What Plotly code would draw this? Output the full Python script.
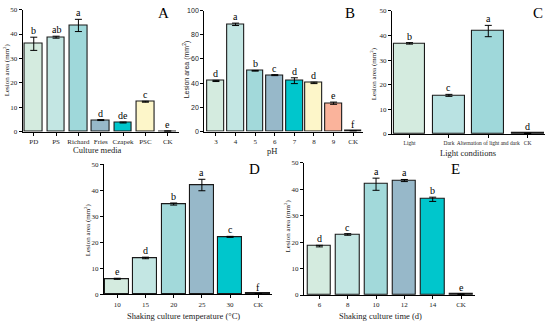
import plotly.graph_objects as go

W, H = 550, 327

# ---- data ----
a_cats = ["PD", "PS", "Richard", "Fries", "Czapek", "PSC", "CK"]
a_vals = [36.0, 38.7, 43.5, 4.8, 3.8, 12.3, 0.3]
a_errs = [2.7, 0.4, 2.5, 0.2, 0.2, 0.2, 0.05]
a_letters = ["b", "ab", "a", "d", "de", "c", "e"]

b_cats = ["3", "4", "5", "6", "7", "8", "9", "CK"]
b_vals = [41.8, 88.6, 50.2, 46.6, 42.0, 40.2, 23.4, 0.5]
b_errs = [0.5, 1.0, 0.3, 0.4, 2.4, 0.6, 0.9, 0.05]
b_letters = ["d", "a", "b", "c", "d", "d", "e", "f"]

c_cats = ["Light", "Dark", "Alternation of light and dark", "CK"]
c_vals = [36.8, 15.7, 41.8, 0.3]
c_errs = [0.3, 0.4, 2.3, 0.05]
c_letters = ["b", "c", "a", "d"]

d_cats = ["10", "15", "20", "25", "30", "CK"]
d_vals = [6.0, 14.0, 34.7, 42.0, 22.1, 0.3]
d_errs = [0.2, 0.3, 0.4, 2.2, 0.2, 0.05]
d_letters = ["e", "d", "b", "a", "c", "f"]

e_cats = ["6", "8", "10", "12", "14", "CK"]
e_vals = [18.5, 22.9, 41.9, 43.3, 36.2, 0.3]
e_errs = [0.3, 0.3, 2.3, 0.4, 0.8, 0.05]
e_letters = ["d", "c", "a", "a", "b", "e"]

# ---- styles ----
G1, G2, G3, G4, CY, YL, SA, DK = "#d4ebdf", "#c3e6e3", "#a2d9da", "#97b8c9", "#00c6cc", "#fdf6c9", "#fab39b", "#222222"
a_cols = [G1, G2, "#9fd8da", G4, CY, YL, DK]
b_cols = [G1, G2, G3, G4, CY, YL, SA, DK]
c_cols = [G1, "#b9e2e2", "#9fd8da", DK]
d_cols = [G1, G2, G3, G4, CY, DK]
e_cols = [G1, G2, G3, G4, CY, DK]

SERIF = "Liberation Serif"
SANS = "Liberation Sans"

def px_x(p): return p / W
def px_y(p): return 1 - p / H

panels = [
    dict(c=a_cats, v=a_vals, e=a_errs, l=a_letters, col=a_cols, xd=(22.6, 178.9), yd=(5.7, 131), xr=(-0.5, 6.5), ym=50, dt=10, bw=0.79,
         lab="A", lp=(163, 9), xt="Culture media", xtp=(97, 150), ytp=(6, 68), tf=7, yfont=SERIF),
    dict(c=b_cats, v=b_vals, e=b_errs, l=b_letters, col=b_cols, xd=(204.2, 363), yd=(6.7, 130.7), xr=(-0.6, 7.5), ym=100, dt=20, bw=0.85,
         lab="B", lp=(350, 9), xt="pH", xtp=(272, 151), ytp=(186, 67), tf=7, yfont=SANS),
    dict(c=c_cats, v=c_vals, e=c_errs, l=c_letters, col=c_cols, xd=(392, 545), yd=(7, 133.3), xr=(-0.445, 3.44), ym=50, dt=10, bw=0.81,
         lab="C", lp=(538, 9), xt="Light conditions", xtp=(468, 153), ytp=(373, 72), tf=5.5, yfont=SERIF),
    dict(c=d_cats, v=d_vals, e=d_errs, l=d_letters, col=d_cols, xd=(104, 272.4), yd=(164.2, 297.7), xr=(-0.47, 5.5), ym=50, dt=10, bw=0.85,
         lab="D", lp=(254, 169), xt="Shaking culture temperature (°C)", xtp=(183, 320), ytp=(87, 232), tf=7, yfont=SERIF),
    dict(c=e_cats, v=e_vals, e=e_errs, l=e_letters, col=e_cols, xd=(303.8, 475.2), yd=(162.8, 298.3), xr=(-0.55, 5.5), ym=50, dt=10, bw=0.82,
         lab="E", lp=(455, 169), xt="Shaking culture time (d)", xtp=(380, 320), ytp=(287, 228), tf=7, yfont=SERIF),
]

fig = go.Figure()
layout = dict(width=W, height=H, margin=dict(l=0, r=0, t=0, b=0), paper_bgcolor="white",
              plot_bgcolor="white", showlegend=False, bargap=0)
annotations = []

for i, p in enumerate(panels):
    idx = "" if i == 0 else str(i + 1)
    xs = list(range(len(p["c"])))
    fig.add_trace(go.Bar(
        x=xs, y=p["v"], width=p["bw"],
        marker=dict(color=p["col"], line=dict(color="#1a1a1a", width=1.1)),
        error_y=dict(type="data", array=p["e"], color="black", thickness=1, width=3.5),
        xaxis="x" + idx, yaxis="y" + idx, hoverinfo="skip"))
    for xi, val, er, lt in zip(xs, p["v"], p["e"], p["l"]):
        annotations.append(dict(x=xi, y=val + er, xref="x" + idx, yref="y" + idx, text=lt,
                                showarrow=False, yanchor="bottom", yshift=-1,
                                font=dict(family=SERIF, size=10, color="black")))
    layout["xaxis" + idx] = dict(
        domain=[px_x(p["xd"][0]), px_x(p["xd"][1])], range=list(p["xr"]), anchor="y" + idx,
        tickvals=xs, ticktext=p["c"], tickangle=0, showline=True, linecolor="black", linewidth=1,
        ticks="outside", ticklen=3, tickcolor="black", showgrid=False, zeroline=False,
        tickfont=dict(family=SERIF, size=p["tf"], color="#222"), fixedrange=True)
    layout["yaxis" + idx] = dict(
        domain=[px_y(p["yd"][1]), px_y(p["yd"][0])], range=[0, p["ym"]], dtick=p["dt"], anchor="x" + idx,
        showline=True, linecolor="black", linewidth=1, ticks="outside", ticklen=3, tickcolor="black",
        showgrid=False, zeroline=False, tickfont=dict(family=p["yfont"], size=7, color="#222"),
        fixedrange=True)
    annotations.append(dict(x=px_x(p["lp"][0]), y=px_y(p["lp"][1]), xref="paper", yref="paper",
                            text=p["lab"], showarrow=False, xanchor="center", yanchor="middle",
                            font=dict(family=SERIF, size=15, color="black")))
    annotations.append(dict(x=px_x(p["xtp"][0]), y=px_y(p["xtp"][1]), xref="paper", yref="paper",
                            text=p["xt"], showarrow=False, xanchor="center", yanchor="middle",
                            font=dict(family=SERIF, size=8.5, color="#222")))
    annotations.append(dict(x=px_x(p["ytp"][0]), y=px_y(p["ytp"][1]), xref="paper", yref="paper",
                            text="Lesion area (mm<sup>2</sup>)", textangle=-90, showarrow=False,
                            xanchor="center", yanchor="middle",
                            font=dict(family=p["yfont"], size=7, color="#222")))

layout["annotations"] = annotations
fig.update_layout(**layout)
fig.write_html("out.html", config={"displayModeBar": False},
               post_script="document.body.style.margin='0';")
